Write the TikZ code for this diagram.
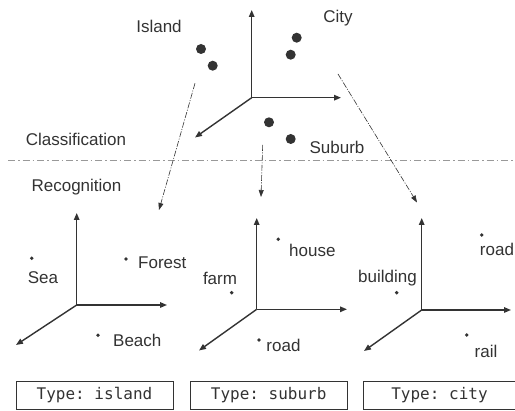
\documentclass[tikz,border=0pt]{standalone}
\usepackage{fontspec}
\setmainfont{Liberation Sans}
\setmonofont{DejaVu Sans Mono}
\usetikzlibrary{arrows.meta}
\definecolor{ink}{HTML}{333333}
\tikzset{
  axis/.style={draw=ink, line width=1.4pt, -{Triangle[length=7pt,width=5.5pt]}},
  bigdot/.style={circle, fill=ink, inner sep=0pt, minimum size=10pt},
  smalldot/.style={circle, fill=ink, inner sep=0pt, minimum size=3.8pt},
  lbl/.style={font=\fontsize{17}{19}\selectfont, text=ink, inner sep=0pt},
  link/.style={draw=ink, line width=0.6pt, dash pattern=on 6pt off 1.5pt on 1pt off 1.5pt, -{Triangle[length=7pt,width=5pt]}},
  sep/.style={draw=gray!80, line width=0.9pt, dash pattern=on 7pt off 3pt on 1.5pt off 3pt},
  typebox/.style={draw=ink, line width=0.7pt, minimum height=28pt, inner sep=0pt, font=\ttfamily\fontsize{16}{18}\selectfont, text=ink},
}
\begin{document}
\begin{tikzpicture}[x=1pt, y=-1pt]
\useasboundingbox (0,0) rectangle (515,411);
\fill[white] (0,0) rectangle (515,411);
% top axes
\coordinate (to) at (251.7,97.7);
\coordinate (tu) at (251.7,10);
\coordinate (tr) at (341,97.7);
\coordinate (tl) at (195,137.5);
\draw[axis] (to) -- (tu);
\draw[axis] (to) -- (tr);
\draw[axis] (to) -- (tl);
% big dots
\node[bigdot] (i1) at (201,49) {};
\node[bigdot] (i2) at (212.7,65.7) {};
\node[bigdot] (c1) at (296.7,37.7) {};
\node[bigdot] (c2) at (290.7,54.7) {};
\node[bigdot] (s1) at (269,122.3) {};
\node[bigdot] (s2) at (290.7,139) {};
\node[lbl] (island) at (159,26) {Island};
\node[lbl] (city) at (338,18) {City};
\node[lbl] (suburb) at (337,147) {Suburb};
\node[lbl] (classif) at (76,139) {Classification};
\node[lbl] (recog) at (76.5,187) {Recognition};
% separator
\coordinate (sepl) at (8,160.5);
\coordinate (sepr) at (515,160.5);
\draw[sep] (sepl) -- (sepr);
% links
\coordinate (la1) at (195,83.3);
\coordinate (la2) at (159,210);
\coordinate (lb1) at (262.7,145);
\coordinate (lb2) at (261,197);
\coordinate (lc1) at (338,74);
\coordinate (lc2) at (417,202.5);
\draw[link] (la1) -- (la2);
\draw[link] (lb1) -- (lb2);
\draw[link] (lc1) -- (lc2);
% island axes
\coordinate (ao) at (76.7,305);
\coordinate (au) at (76.7,213);
\coordinate (ar) at (167,305);
\coordinate (al) at (16,345);
\draw[axis] (ao) -- (au);
\draw[axis] (ao) -- (ar);
\draw[axis] (ao) -- (al);
\node[smalldot] (seadot) at (31.7,258.3) {};
\node[lbl] (sea) at (43,277.7) {Sea};
\node[smalldot] (forestdot) at (126,259) {};
\node[lbl, anchor=west] (forest) at (138,263) {Forest};
\node[smalldot] (beachdot) at (98,335.3) {};
\node[lbl, anchor=west] (beach) at (113,340) {Beach};
% suburb axes
\coordinate (bo) at (256.7,309.3);
\coordinate (bu) at (256.7,218);
\coordinate (br) at (347,309.3);
\coordinate (bl) at (199,350.5);
\draw[axis] (bo) -- (bu);
\draw[axis] (bo) -- (br);
\draw[axis] (bo) -- (bl);
\node[smalldot] (housedot) at (278.3,239.3) {};
\node[lbl, anchor=west] (house) at (289,250) {house};
\node[smalldot] (farmdot) at (231.7,292.7) {};
\node[lbl] (farm) at (220,278.3) {farm};
\node[smalldot] (roaddot) at (259,340) {};
\node[lbl] (road) at (283.5,345.7) {road};
% city axes
\coordinate (co) at (421.7,310);
\coordinate (cu) at (421.7,218);
\coordinate (cr) at (511,310);
\coordinate (cl) at (364,351);
\draw[axis] (co) -- (cu);
\draw[axis] (co) -- (cr);
\draw[axis] (co) -- (cl);
\node[smalldot] (builddot) at (396.7,292.7) {};
\node[lbl] (building) at (387.5,278.3) {building};
\node[smalldot] (road2dot) at (481.7,235) {};
\node[lbl] (road2) at (497,249) {road};
\node[smalldot] (raildot) at (466.7,335) {};
\node[lbl] (rail) at (486,351.7) {rail};
% type boxes
\node[typebox, minimum width=157pt] (bxi) at (94.5,395) {Type: island};
\node[typebox, minimum width=157pt] (bxs) at (268.7,395) {Type: suburb};
\node[typebox, minimum width=152pt] (bxc) at (439.5,395) {Type: city};
\end{tikzpicture}
\end{document}
